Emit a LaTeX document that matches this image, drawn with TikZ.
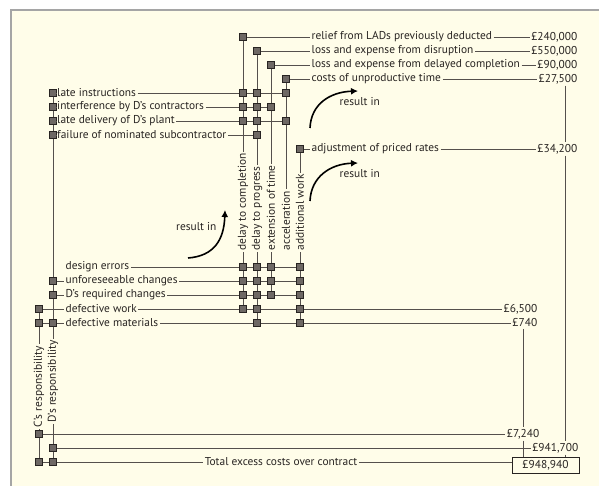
\documentclass[tikz,border=0pt]{standalone}
\usepackage{fontspec}
\setmainfont{PT Sans}
\usetikzlibrary{arrows.meta}
\definecolor{paper}{RGB}{255,253,233}
\definecolor{framegrey}{RGB}{165,165,165}
\definecolor{ink}{RGB}{40,36,34}
\definecolor{wiregrey}{RGB}{85,80,76}
\definecolor{sqfill}{RGB}{110,104,100}
\definecolor{sqedge}{RGB}{40,36,34}

\begin{document}
\begin{tikzpicture}[x=1pt,y=-1pt,
  sq/.style={draw=sqedge,fill=sqfill,line width=0.9pt,minimum size=6.5pt,inner sep=0pt},
  txt/.style={text=ink,inner sep=1.5pt,font=\fontsize{11.4}{13}\selectfont},
  lft/.style={txt,anchor=west},
  rgt/.style={txt,anchor=east},
  vtxt/.style={txt,rotate=90,anchor=west},
  wire/.style={draw=wiregrey,line width=0.6pt},
  turn/.style={draw=black,line width=1.6pt,-{Latex[length=7pt,width=7pt]}}]
  \useasboundingbox (0,0) rectangle (599,486);
  \fill[paper] (11,10) rectangle (599,486);
  \draw[framegrey,line width=2pt] (11,486) -- (11,10) -- (599,10);

  \coordinate (csum) at (523,0);
  \coordinate (dsum) at (565,0);

  % results
  \node[sq] (e1) at (243,37) {};
  \node[sq] (e2) at (257,51) {};
  \node[sq] (e3) at (271,65) {};
  \node[sq] (e4) at (286,79) {};
  \node[sq] (e5) at (300,149) {};
  \node[lft] (t1) at (310,37) {relief from LADs previously deducted};
  \node[lft] (t2) at (310,51) {loss and expense from disruption};
  \node[lft] (t3) at (310,65) {loss and expense from delayed completion};
  \node[lft] (t4) at (310,79) {costs of unproductive time};
  \node[lft] (t5) at (310,149) {adjustment of priced rates};
  \node[rgt] (m1) at (579,37) {£240,000};
  \node[rgt] (m2) at (579,51) {£550,000};
  \node[rgt] (m3) at (579,65) {£90,000};
  \node[rgt] (m4) at (579,79) {£27,500};
  \node[rgt] (m5) at (579,149) {£34,200};
  \draw[wire] (e1) -- (t1) -- (m1);
  \draw[wire] (e2) -- (t2) -- (m2);
  \draw[wire] (e3) -- (t3) -- (m3);
  \draw[wire] (e4) -- (t4) -- (m4);
  \draw[wire] (e5) -- (t5) -- (m5);

  % causes, upper group
  \node[sq] (lateD) at (53,93) {};
  \node[sq] (late1) at (243,93) {};
  \node[sq] (late2) at (257,93) {};
  \node[sq] (late4) at (286,93) {};
  \node[lft] (late) at (55.5,93) {late instructions};
  \draw[wire] (lateD) -- (late) -- (late1) -- (late2) -- (late4);

  \node[sq] (intfD) at (53,107) {};
  \node[sq] (intf1) at (243,107) {};
  \node[sq] (intf2) at (257,107) {};
  \node[sq] (intf3) at (271,107) {};
  \node[lft] (intf) at (55.5,107) {interference by D’s contractors};
  \draw[wire] (intfD) -- (intf) -- (intf1) -- (intf2) -- (intf3);

  \node[sq] (plantD) at (53,121) {};
  \node[sq] (plant1) at (243,121) {};
  \node[sq] (plant2) at (257,121) {};
  \node[sq] (plant4) at (286,121) {};
  \node[lft] (plant) at (55.5,121) {late delivery of D’s plant};
  \draw[wire] (plantD) -- (plant) -- (plant1) -- (plant2) -- (plant4);

  \node[sq] (failD) at (53,135) {};
  \node[sq] (fail2) at (257,135) {};
  \node[lft] (fail) at (55.5,135) {failure of nominated subcontractor};
  \draw[wire] (failD) -- (fail) -- (fail2);

  % causes, lower group
  \node[sq] (design1) at (243,267) {};
  \node[sq] (design2) at (257,267) {};
  \node[sq] (design3) at (271,267) {};
  \node[sq] (design5) at (300,267) {};
  \node[lft] (design) at (64,267) {design errors};
  \draw[wire] (design) -- (design1) -- (design2) -- (design3) -- (design5);

  \node[sq] (unforD) at (53,281) {};
  \node[sq] (unfor1) at (243,281) {};
  \node[sq] (unfor2) at (257,281) {};
  \node[sq] (unfor3) at (271,281) {};
  \node[sq] (unfor5) at (300,281) {};
  \node[lft] (unfor) at (64,281) {unforeseeable changes};
  \draw[wire] (unforD) -- (unfor) -- (unfor1) -- (unfor2) -- (unfor3) -- (unfor5);

  \node[sq] (dreqD) at (53,295) {};
  \node[sq] (dreq1) at (243,295) {};
  \node[sq] (dreq2) at (257,295) {};
  \node[sq] (dreq3) at (271,295) {};
  \node[sq] (dreq5) at (300,295) {};
  \node[lft] (dreq) at (64,295) {D’s required changes};
  \draw[wire] (dreqD) -- (dreq) -- (dreq1) -- (dreq2) -- (dreq3) -- (dreq5);

  \node[sq] (dworkC) at (39,309) {};
  \node[sq] (dwork1) at (243,309) {};
  \node[sq] (dwork2) at (257,309) {};
  \node[sq] (dwork5) at (300,309) {};
  \node[lft] (dwork) at (64,309) {defective work};
  \node[rgt] (m6) at (539,309) {£6,500};
  \draw[wire] (dworkC) -- (dwork) -- (dwork1) -- (dwork2) -- (dwork5) -- (m6);

  \node[sq] (dmatC) at (39,323) {};
  \node[sq] (dmatD) at (53,323) {};
  \node[sq] (dmat2) at (257,323) {};
  \node[sq] (dmat5) at (300,323) {};
  \node[lft] (dmat) at (64,323) {defective materials};
  \node[rgt] (m7) at (539,323) {£740};
  \draw[wire] (dmatC) -- (dmatD) -- (dmat) -- (dmat2) -- (dmat5) -- (m7);

  % columns
  \node[vtxt] (v1) at (243,252) {delay to completion};
  \node[vtxt] (v2) at (257,252) {delay to progress};
  \node[vtxt] (v3) at (271,252) {extension of time};
  \node[vtxt] (v4) at (286,252) {acceleration};
  \node[vtxt] (v5) at (300,252) {additional work};
  \draw[wire] (e1) -- (late1) -- (intf1) -- (plant1) -- (v1) -- (design1) -- (unfor1) -- (dreq1) -- (dwork1);
  \draw[wire] (e2) -- (late2) -- (intf2) -- (plant2) -- (fail2) -- (v2) -- (design2) -- (unfor2) -- (dreq2) -- (dwork2) -- (dmat2);
  \draw[wire] (e3) -- (intf3) -- (v3) -- (design3) -- (unfor3) -- (dreq3);
  \draw[wire] (e4) -- (late4) -- (plant4) -- (v4);
  \draw[wire] (e5) -- (v5) -- (design5) -- (unfor5) -- (dreq5) -- (dwork5) -- (dmat5);

  % responsibility and totals
  \node[vtxt] (vC) at (39,429) {C’s responsibility};
  \node[vtxt] (vD) at (53,424) {D’s responsibility};
  \node[sq] (sumC) at (39,434) {};
  \node[sq] (sumD) at (53,448) {};
  \node[sq] (totC) at (39,462) {};
  \node[sq] (totD) at (53,462) {};
  \node[rgt] (m8) at (541,434) {£7,240};
  \node[rgt] (m9) at (580,448) {£941,700};
  \node[txt] (total) at (281,462) {Total excess costs over contract};
  \node[txt,draw=ink,line width=0.8pt,minimum width=67pt,minimum height=16pt] (grand) at (545.5,465) {£948,940};
  \draw[wire] (dworkC) -- (dmatC) -- (vC) -- (sumC) -- (totC);
  \draw[wire] (lateD) -- (intfD) -- (plantD) -- (failD) -- (unforD) -- (dreqD) -- (dmatD) -- (vD) -- (sumD) -- (totD);
  \draw[wire] (sumC) -- (m8);
  \draw[wire] (sumD) -- (m9);
  \draw[wire] (totC) -- (totD) -- (total) -- (total -| grand.west);
  \draw[wire] (m7.south -| csum) -- (m8.north -| csum);
  \draw[wire] (m8.south -| csum) -- (grand.north -| csum);
  \draw[wire] (m4.south -| dsum) -- (m5.north -| dsum);
  \draw[wire] (m5.south -| dsum) -- (m9.north -| dsum);
  \draw[wire] (m9.south -| dsum) -- (grand.north -| dsum);

  % result in
  \node[lft] (res1) at (338,102) {result in};
  \node[lft] (res2) at (338,174) {result in};
  \node[rgt] (res3) at (218,227) {result in};
  \draw[turn] (310,128) .. controls (311,104) and (330,92) .. (358,91);
  \draw[turn] (310,201) .. controls (311,177) and (330,164) .. (358,163);
  \draw[turn] (188,258) .. controls (214,256) and (224,240) .. (225,210);
\end{tikzpicture}
\end{document}
